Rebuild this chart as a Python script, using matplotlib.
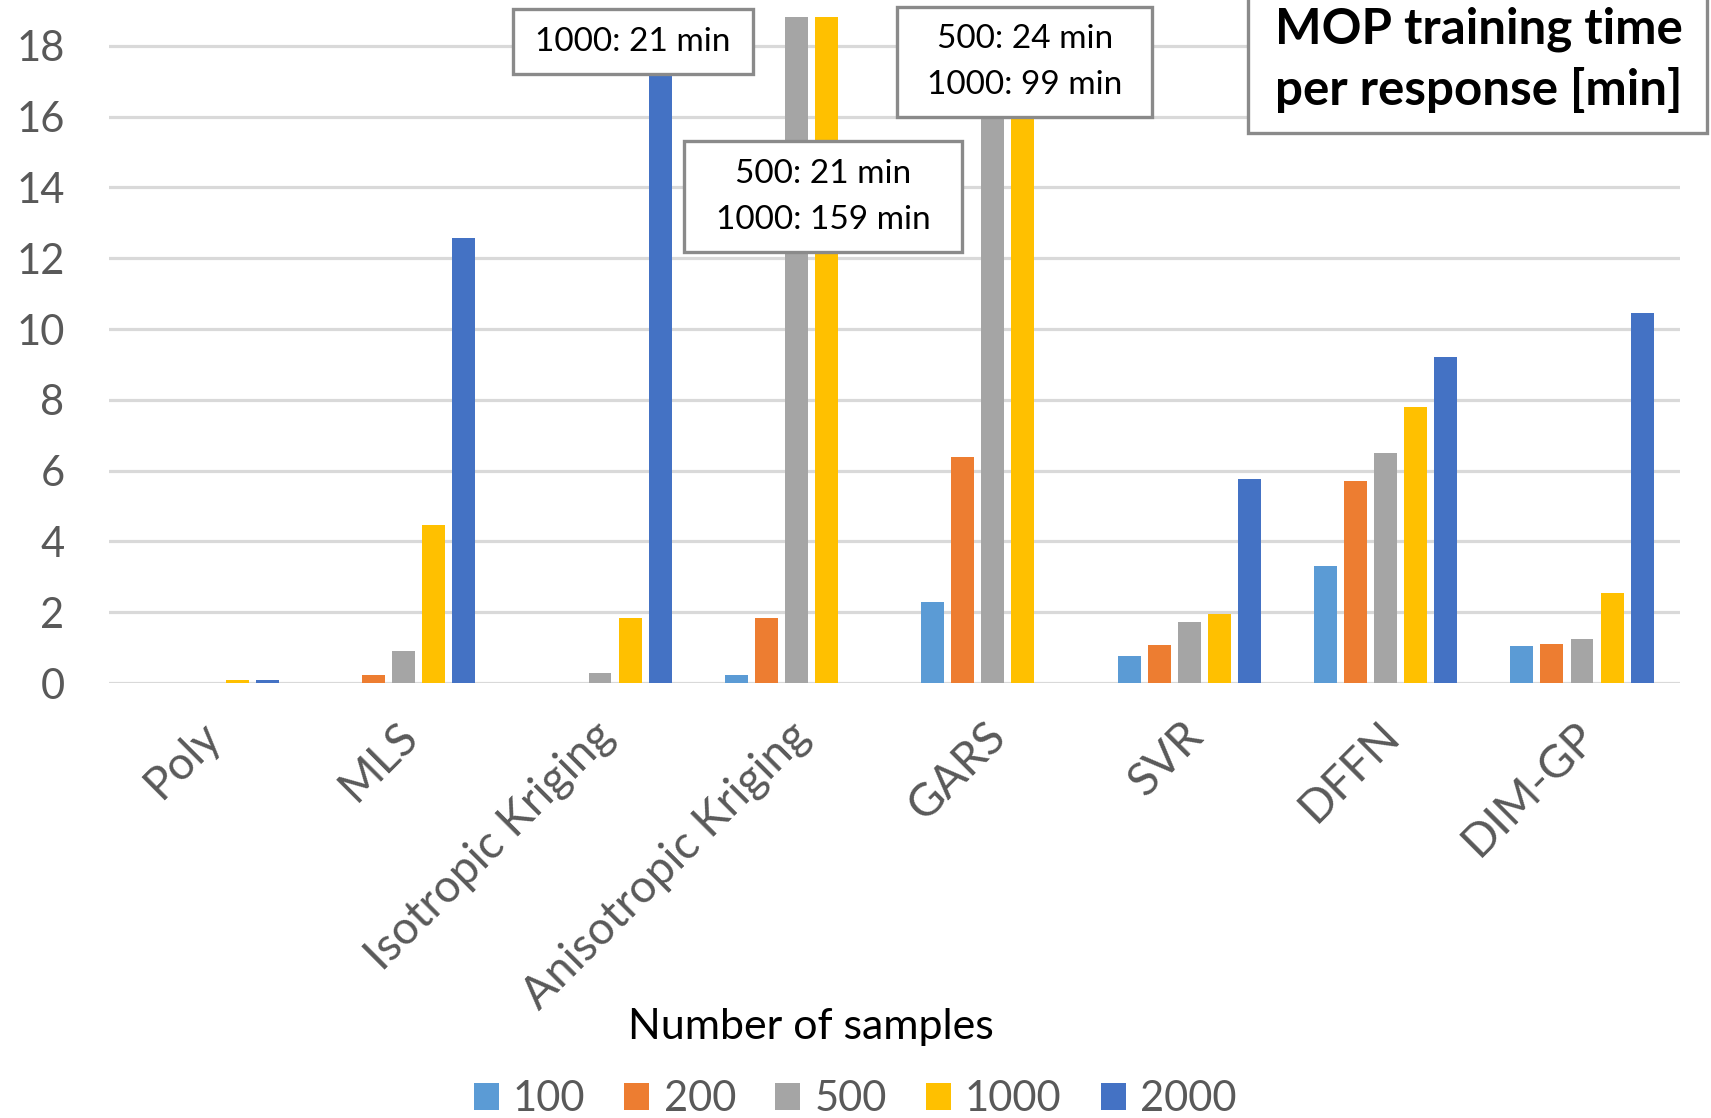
import matplotlib.pyplot as plt
import matplotlib.patches as patches
import matplotlib.transforms as mtrans
import numpy as np

plt.rcParams['font.family'] = ['Lato', 'DejaVu Sans']

methods = ["Poly", "MLS", "Isotropic Kriging", "Anisotropic Kriging",
           "GARS", "SVR", "DFFN", "DIM-GP"]
sample_sizes = ["100", "200", "500", "1000", "2000"]

# training time per response [min], one list per number of samples
t_100 = [0, 0, 0, 0.22, 2.3, 0.76, 3.3, 1.05]
t_200 = [0, 0.22, 0, 1.85, 6.4, 1.07, 5.72, 1.1]
t_500 = [0, 0.92, 0.28, 21, 24, 1.72, 6.5, 1.25]
t_1000 = [0.08, 4.47, 1.85, 159, 99, 1.96, 7.8, 2.55]
t_2000 = [0.08, 12.57, 21, 0, 0, 5.76, 9.2, 10.45]
series = [t_100, t_200, t_500, t_1000, t_2000]

colors = ["#5B9BD5", "#ED7D31", "#A5A5A5", "#FFC000", "#4472C4"]
grey_txt = "#595959"
box_edge = "#8A8A8A"

W, H = 1711, 1118
fig = plt.figure(figsize=(W / 100, H / 100), dpi=100)
ax = fig.add_axes([0.0637, 0.389, 0.982 - 0.0637, 0.985 - 0.389])

x = np.arange(len(methods))
step = 0.153
width = 0.117
for i, (vals, lab, col) in enumerate(zip(series, sample_sizes, colors)):
    ax.bar(x + (i - 2) * step, vals, width, color=col, label=lab, zorder=3)

ax.set_xlim(-0.5, len(methods) - 0.5)
ax.set_ylim(0, 18.82)
ax.set_yticks(np.arange(0, 19, 2))
ax.yaxis.grid(True, color="#D9D9D9", linewidth=2.3, zorder=0)
ax.xaxis.grid(False)
for s in ax.spines.values():
    s.set_visible(False)
ax.tick_params(axis='y', length=0, pad=32, labelsize=30, labelcolor=grey_txt)
ax.tick_params(axis='x', length=0, pad=33, labelsize=33, labelcolor=grey_txt)
ax.set_xticks(x)
ax.set_xticklabels(methods, rotation=45, ha='right', va='center',
                   rotation_mode='anchor')
shift = mtrans.ScaledTranslation(0.07, 0, fig.dpi_scale_trans)
for lbl in ax.get_xticklabels():
    lbl.set_transform(lbl.get_transform() + shift)


def px_box(left, top, right, bottom):
    return patches.Rectangle((left / W, 1 - bottom / H), (right - left) / W,
                             (bottom - top) / H, transform=fig.transFigure,
                             facecolor="white", edgecolor=box_edge,
                             linewidth=2.4, zorder=10, clip_on=False)


# call-outs for the bars running off the top
fig.patches.append(px_box(513, 9, 753, 74))
fig.text(633 / W, 1 - 42 / H, "1000: 21 min", ha='center', va='center',
         fontsize=24, color="black", zorder=11)
fig.patches.append(px_box(684, 141, 962, 252))
fig.text(823 / W, 1 - 197 / H, "500: 21 min\n1000: 159 min", ha='center',
         va='center', fontsize=24, color="black", linespacing=1.65, zorder=11)
fig.patches.append(px_box(897, 7, 1152, 117))
fig.text(1025 / W, 1 - 62 / H, "500: 24 min\n1000: 99 min", ha='center',
         va='center', fontsize=24, color="black", linespacing=1.65, zorder=11)

# chart title box
fig.patches.append(px_box(1248, -10, 1707, 133))
fig.text(1479 / W, 1 - 60 / H, "MOP training time\nper response [min]",
         ha='center', va='center', fontsize=35.5, fontweight='bold',
         color="black", linespacing=1.4, zorder=11)

fig.text(811 / W, 1 - 1027 / H, "Number of samples", ha='center',
         va='center', fontsize=31, color="black")
handles, labels = ax.get_legend_handles_labels()
leg = fig.legend(handles, labels, loc='center', ncol=5,
                 bbox_to_anchor=(855 / W, 1 - 1099 / H), frameon=False,
                 fontsize=30, handlelength=0.6, handleheight=0.6,
                 handletextpad=0.34, columnspacing=0.94, borderpad=0)
for t in leg.get_texts():
    t.set_color(grey_txt)

fig.savefig("out.png", dpi=100)
